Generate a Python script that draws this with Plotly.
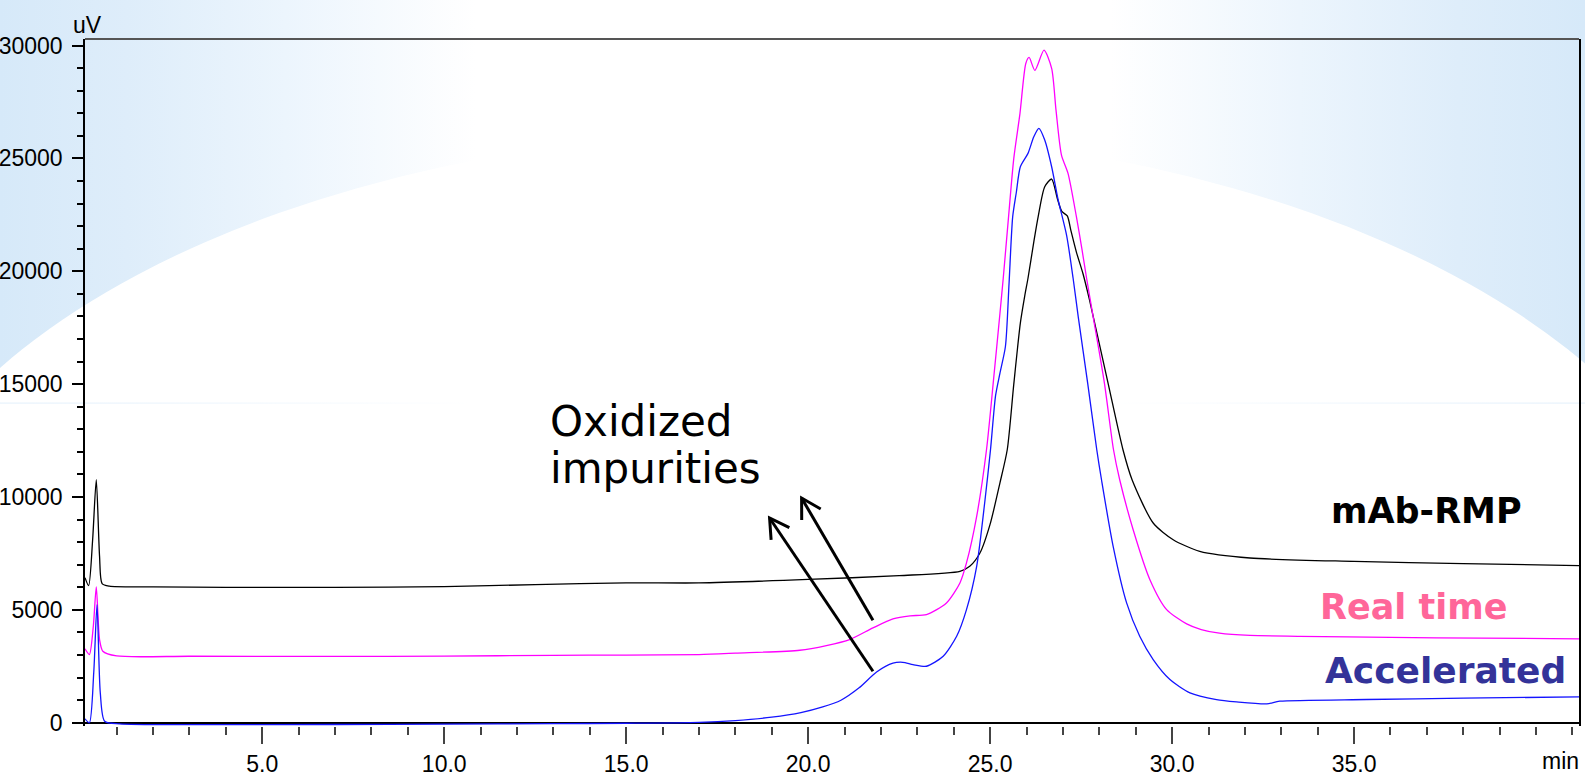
import base64
import math
import plotly.graph_objects as go

# ---------------- data ----------------
rmp_t = [0.13, 0.23, 0.34, 0.44, 0.53, 0.6, 0.8, 2, 4, 7, 10, 12.5, 15, 17, 20, 22.5, 24.17, 24.44,
         24.72, 25.0, 25.27, 25.47, 25.65, 25.83, 25.95, 26.04, 26.2, 26.32, 26.5, 26.69, 26.85, 26.97,
         27.12, 27.22, 27.37, 27.55, 27.73, 28.24, 28.65, 28.9, 29.48, 30.03, 30.76, 32.14, 35, 38, 41.18]
rmp_v = [6430, 6075, 8111, 10766, 7372, 6165, 6050, 6020, 6000, 6000, 6035, 6120, 6200, 6195, 6350, 6518,
         6710, 6930, 7520, 8800, 10630, 12094, 15000, 17700, 18900, 19690, 21300, 22418, 23745, 24086,
         23200, 22650, 22450, 21800, 20850, 19900, 18731, 15045, 12094, 10766, 8850, 8111, 7594, 7300,
         7150, 7050, 6961]

rt_t = [0.13, 0.25, 0.36, 0.44, 0.53, 0.62, 1.0, 3, 7, 10, 13, 15, 17, 18, 19.77, 20.5, 21.14, 21.78,
        22.33, 22.8, 23.25, 23.8, 24.17, 24.35, 24.63, 24.9, 25.1, 25.27, 25.36, 25.5, 25.65, 25.82,
        25.98, 26.07, 26.23, 26.48, 26.69, 26.81, 26.96, 27.14, 27.37, 27.52, 27.65, 27.83, 28.14,
        28.39, 28.56, 28.93, 29.39, 29.85, 30.4, 30.8, 31.3, 32.14, 33.51, 36, 38.5, 41.18]
rt_v = [3275, 3022, 4300, 6018, 3686, 3170, 2960, 2947, 2940, 2950, 2990, 3000, 3022, 3085, 3213, 3420,
        3686, 4204, 4602, 4740, 4792, 5310, 6195, 7080, 9142, 12094, 15300, 18143, 19690, 22300, 25000,
        26993, 29205, 29470, 28900, 29793, 28985, 27138, 25147, 24338, 22418, 21000, 19690, 17992,
        15045, 12094, 10766, 8553, 6341, 5014, 4380, 4130, 3970, 3870, 3832, 3780, 3750, 3717]

acc_t = [0.13, 0.25, 0.37, 0.46, 0.55, 0.67, 1.08, 3, 7, 10, 13, 15, 17, 18, 19, 19.8, 20.4, 20.9, 21.4,
         21.88, 22.33, 22.6, 22.88, 23.25, 23.71, 24.08, 24.35, 24.63, 24.86, 25.01, 25.15, 25.27, 25.42,
         25.52, 25.62, 25.72, 25.83, 26.04, 26.2, 26.34, 26.5, 26.69, 26.87, 27.1, 27.28, 27.42, 27.68,
         27.93, 28.06, 28.38, 28.75, 29.11, 29.48, 29.94, 30.49, 31.22, 31.77, 32.6, 32.96, 35.35, 38, 41.18]
acc_v = [177, 0, 2212, 5235, 1327, 71, -44, -80, -75, -60, -40, -20, 20, 100, 250, 450, 700, 1000, 1550,
         2250, 2640, 2680, 2580, 2505, 2947, 3832, 5014, 6930, 9881, 12094, 14500, 15488, 16666, 19469,
         22418, 23500, 24630, 25222, 25960, 26329, 25811, 24630, 23156, 21600, 19690, 17992, 15045, 12094,
         10766, 7814, 5310, 3832, 2801, 1916, 1327, 1031, 929, 841, 956, 1031, 1090, 1150]

series_names = ["mAb-RMP", "Real time", "Accelerated"]
x_major_ticks = [5, 10, 15, 20, 25, 30, 35]
y_major_ticks = [0, 5000, 10000, 15000, 20000, 25000, 30000]

# arrows: (tail_t, tail_v, tip_t, tip_v)
arrows = [(21.78, 4540, 19.82, 9956), (21.78, 2283, 18.94, 9071)]

# ---------------- layout geometry ----------------
W, H = 1585, 776
ML, MR, MT, MB = 85, 6, 39, 50
PW, PH = W - ML - MR, H - MT - MB
XR = [0.13, 41.18]
YR = [-142, 30288]
px_per_x = PW / (XR[1] - XR[0])
px_per_y = PH / (YR[1] - YR[0])

# ---------------- background (slide style) ----------------
cx, cy, rx, ry = 795, 623, 929, 493
svg = f"""<svg xmlns='http://www.w3.org/2000/svg' width='{W}' height='{H}' viewBox='0 0 {W} {H}'>
<defs><linearGradient id='g' x1='0' y1='0' x2='1' y2='0'>
<stop offset='0' stop-color='#d6e9f9'/><stop offset='0.08' stop-color='#deedfa'/>
<stop offset='0.18' stop-color='#ecf5fd'/><stop offset='0.3' stop-color='#ffffff'/>
<stop offset='0.7' stop-color='#ffffff'/><stop offset='0.82' stop-color='#ecf5fd'/>
<stop offset='0.92' stop-color='#deedfa'/><stop offset='1' stop-color='#d6e9f9'/>
</linearGradient></defs>
<rect width='{W}' height='{H}' fill='#ffffff'/>
<rect width='{W}' height='403' fill='url(#g)'/>
<ellipse cx='{cx}' cy='{cy}' rx='{rx}' ry='{ry}' fill='#ffffff'/>
<rect y='402.5' width='{W}' height='1.2' fill='url(#g)' opacity='0.6'/>
</svg>"""
bg_uri = "data:image/svg+xml;base64," + base64.b64encode(svg.encode()).decode()

fig = go.Figure()
colors = ["#000000", "#ff00ff", "#1414ff"]
for name, t, v, c in zip(series_names, [rmp_t, rt_t, acc_t], [rmp_v, rt_v, acc_v], colors):
    fig.add_trace(go.Scatter(x=t, y=v, mode="lines", name=name,
                             line=dict(color=c, width=1.3, shape="spline", smoothing=0.7)))

tick_font = dict(family="Liberation Sans, Arial", size=23, color="#000")

shapes = []
for (t0, v0, t1, v1) in arrows:
    shapes.append(dict(type="line", xref="x", yref="y", x0=t0, y0=v0, x1=t1, y1=v1,
                       line=dict(color="black", width=3)))
    # open V head in pixel units anchored at tip
    dx = (t0 - t1) * px_per_x
    dy = (v0 - v1) * px_per_y  # up-positive
    L = math.hypot(dx, dy)
    ux, uy = dx / L, dy / L
    pts = []
    for ang in (math.radians(30), math.radians(-30)):
        bx = (ux * math.cos(ang) - uy * math.sin(ang)) * 22
        by = (ux * math.sin(ang) + uy * math.cos(ang)) * 22
        pts.append((bx, by))
    path = f"M {pts[0][0]:.2f},{pts[0][1]:.2f} L 0,0 L {pts[1][0]:.2f},{pts[1][1]:.2f}"
    shapes.append(dict(type="path", xref="x", yref="y", xsizemode="pixel", ysizemode="pixel",
                       xanchor=t1, yanchor=v1, path=path, line=dict(color="black", width=3)))
# top frame line
shapes.append(dict(type="line", xref="paper", yref="paper", x0=0, x1=1, y0=1, y1=1,
                   line=dict(color="#555555", width=2)))

label_font = "DejaVu Sans"
annotations = [
    dict(text="Oxidized", x=12.84, y=13350, xref="x", yref="y", xanchor="left", yanchor="middle",
         showarrow=False, font=dict(family=label_font, size=42, color="black")),
    dict(text="impurities", x=12.84, y=11250, xref="x", yref="y", xanchor="left", yanchor="middle",
         showarrow=False, font=dict(family=label_font, size=42, color="black")),
    dict(text="<b>mAb-RMP</b>", x=34.3, y=9370, xref="x", yref="y", xanchor="left", yanchor="middle",
         showarrow=False, font=dict(family=label_font, size=35, color="black")),
    dict(text="<b>Real time</b>", x=34.0, y=5120, xref="x", yref="y", xanchor="left", yanchor="middle",
         showarrow=False, font=dict(family=label_font, size=35, color="#ff6699")),
    dict(text="<b>Accelerated</b>", x=34.14, y=2330, xref="x", yref="y", xanchor="left", yanchor="middle",
         showarrow=False, font=dict(family=label_font, size=36, color="#333399")),
    dict(text="uV", x=0, y=1, xref="paper", yref="paper", xanchor="left", yanchor="bottom",
         xshift=-14, yshift=-1, showarrow=False, font=tick_font),
    dict(text="min", x=1, y=0, xref="paper", yref="paper", xanchor="right", yanchor="top",
         xshift=2, yshift=-20, showarrow=False, font=tick_font),
]

fig.update_layout(
    width=W, height=H,
    margin=dict(l=ML, r=MR, t=MT, b=MB, autoexpand=False),
    paper_bgcolor="white", plot_bgcolor="rgba(0,0,0,0)",
    showlegend=False,
    shapes=shapes, annotations=annotations,
    images=[dict(source=bg_uri, xref="paper", yref="paper", x=-ML / PW, y=1 + MT / PH,
                 sizex=W / PW, sizey=H / PH, xanchor="left", yanchor="top",
                 sizing="stretch", layer="below")],
    xaxis=dict(range=XR, showgrid=False, zeroline=False, showline=False, automargin=False,
               tickmode="array", tickvals=x_major_ticks, ticktext=[f"{v:.1f}" for v in x_major_ticks],
               ticks="outside", ticklen=17, tickwidth=1.5, tickcolor="#444",
               minor=dict(dtick=1, tick0=0, ticks="outside", ticklen=8, tickwidth=1.5, tickcolor="#444"),
               tickfont=tick_font, ticklabelstandoff=0),
    yaxis=dict(range=YR, showgrid=False, zeroline=True, zerolinecolor="black", zerolinewidth=2,
               showline=True, linecolor="black", linewidth=1.5, mirror=True, automargin=False,
               tickmode="array", tickvals=y_major_ticks, ticktext=[str(v) for v in y_major_ticks],
               ticks="outside", ticklen=11, tickwidth=1.5, tickcolor="black",
               minor=dict(dtick=1000, tick0=0, ticks="outside", ticklen=6, tickwidth=1.5, tickcolor="black"),
               tickfont=tick_font, ticklabelstandoff=5),
)

fig.write_html("out.html")
